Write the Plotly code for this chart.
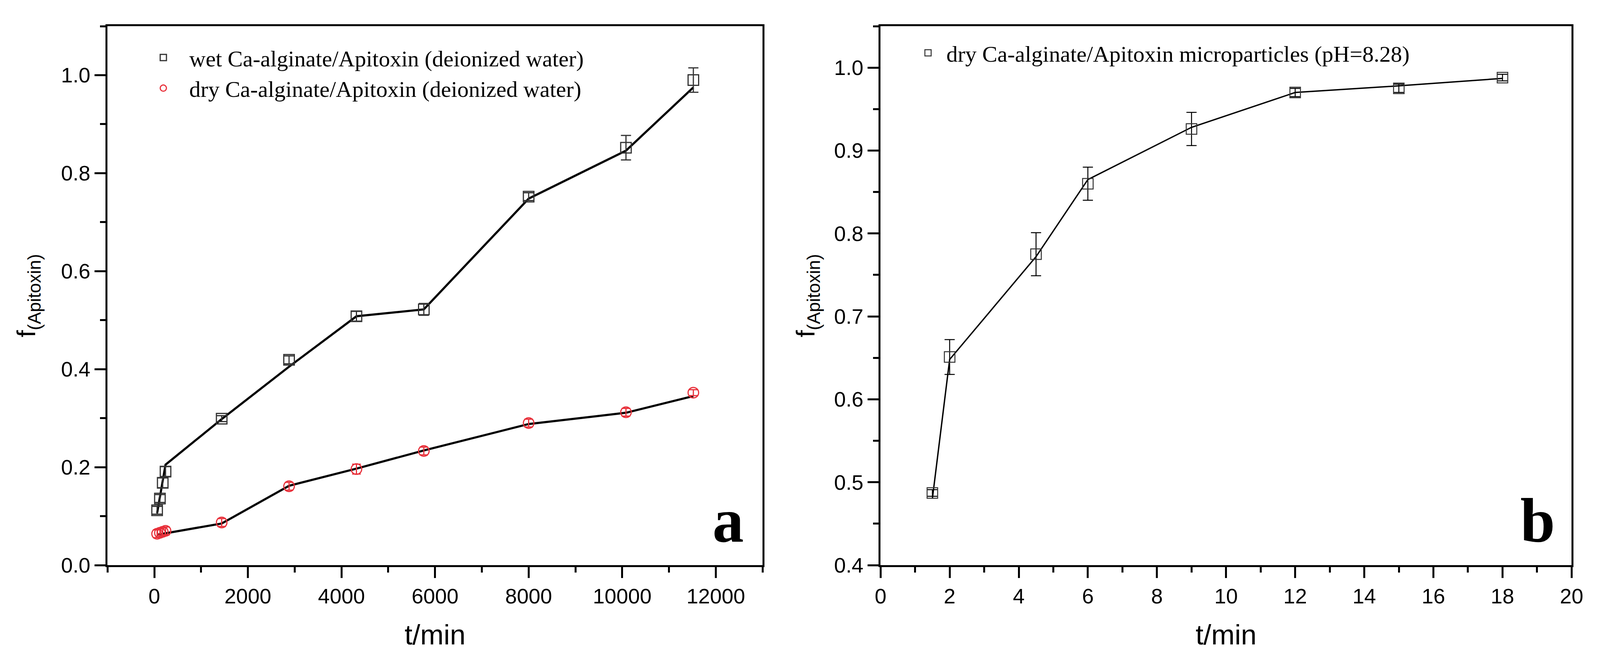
import plotly.graph_objects as go

# reference picture size; the page is shown in a 4096 css-px wide viewport
RW, RH = 4450, 1695
W, H = 4096, 1695


def fx(v):
    return v / RW


def fy(v):
    return 1 - v / RH


# ---------------- Panel a data ----------------
t_a = [60, 120, 180, 240, 1440, 2880, 4320, 5760, 8000, 10080, 11520]
wet_f = [0.112, 0.136, 0.168, 0.191, 0.299, 0.419, 0.508, 0.522, 0.752, 0.852, 0.990]
wet_err = [0.008, 0.008, 0.010, 0.010, 0.006, 0.008, 0.010, 0.012, 0.008, 0.025, 0.025]
wet_line = [0.106, 0.140, 0.172, 0.205, 0.298, 0.405, 0.508, 0.522, 0.748, 0.846, 0.975]

dry_f = [0.064, 0.066, 0.068, 0.070, 0.087, 0.161, 0.196, 0.233, 0.290, 0.312, 0.352]
dry_err = [0.008, 0.008, 0.008, 0.008, 0.008, 0.008, 0.010, 0.008, 0.008, 0.008, 0.006]
dry_line = [0.062, 0.063, 0.064, 0.066, 0.085, 0.162, 0.197, 0.234, 0.288, 0.311, 0.345]

# ---------------- Panel b data ----------------
t_b = [1.5, 2, 4.5, 6, 9, 12, 15, 18]
b_f = [0.487, 0.651, 0.775, 0.860, 0.926, 0.970, 0.975, 0.988]
b_err = [0.004, 0.021, 0.026, 0.020, 0.020, 0.005, 0.005, 0.004]
b_line = [0.480, 0.648, 0.772, 0.865, 0.928, 0.970, 0.978, 0.987]

leg_a = ["wet Ca-alginate/Apitoxin (deionized water)",
         "dry Ca-alginate/Apitoxin (deionized water)"]
leg_b = "dry Ca-alginate/Apitoxin microparticles (pH=8.28)"
x_title = "t/min"
y_title = "f<sub>(Apitoxin)</sub>"
panel_labels = ["a", "b"]

SANS = "Liberation Sans, Arial, sans-serif"
SERIF = "Liberation Serif, Times New Roman, serif"
RED = "#e8303a"
DARK = "#333333"

fig = go.Figure()

# panel a lines
fig.add_trace(go.Scatter(x=t_a, y=wet_line, mode="lines", line=dict(color="black", width=5.5),
                         showlegend=False, hoverinfo="skip", xaxis="x", yaxis="y"))
fig.add_trace(go.Scatter(x=t_a, y=dry_line, mode="lines", line=dict(color="black", width=5.5),
                         showlegend=False, hoverinfo="skip", xaxis="x", yaxis="y"))
# panel a markers
fig.add_trace(go.Scatter(x=t_a, y=wet_f, mode="markers", name=leg_a[0],
                         marker=dict(symbol="square-open", size=27, color=DARK,
                                     line=dict(width=3, color=DARK)),
                         error_y=dict(type="data", array=wet_err, color=DARK,
                                      thickness=3, width=13),
                         xaxis="x", yaxis="y", legend="legend"))
fig.add_trace(go.Scatter(x=t_a, y=dry_f, mode="markers", name=leg_a[1],
                         marker=dict(symbol="circle-open", size=27, color=RED,
                                     line=dict(width=3, color=RED)),
                         error_y=dict(type="data", array=dry_err, color=RED,
                                      thickness=3, width=11),
                         xaxis="x", yaxis="y", legend="legend"))

# panel b
fig.add_trace(go.Scatter(x=t_b, y=b_line, mode="lines", line=dict(color="black", width=3.5),
                         showlegend=False, hoverinfo="skip", xaxis="x2", yaxis="y2"))
fig.add_trace(go.Scatter(x=t_b, y=b_f, mode="markers", name=leg_b,
                         marker=dict(symbol="square-open", size=27, color=DARK,
                                     line=dict(width=2.5, color=DARK)),
                         error_y=dict(type="data", array=b_err, color="black",
                                      thickness=2.5, width=13),
                         xaxis="x2", yaxis="y2", legend="legend2"))

minor_style = dict(ticks="outside", ticklen=14, tickwidth=4.5, tickcolor="black")
axis_common = dict(showline=True, linecolor="black", linewidth=5, mirror=True,
                   showgrid=False, zeroline=False, ticks="outside", ticklen=28,
                   tickwidth=5, tickcolor="black",
                   tickfont=dict(family=SANS, size=54, color="black"),
                   automargin=False)
xtitle_font = dict(family=SANS, size=72, color="black")
ytitle_font = dict(family=SANS, size=66, color="black")

ydom = [fy(1447), fy(67)]

fig.update_layout(
    width=W, height=H,
    margin=dict(l=0, r=0, t=0, b=0),
    paper_bgcolor="white", plot_bgcolor="white",
    xaxis=dict(axis_common, domain=[fx(299), fx(2121)], range=[-1000, 13000],
               tick0=0, dtick=2000, tickformat="d",
               minor=dict(minor_style, dtick=1000),
               title=dict(text=x_title, font=xtitle_font, standoff=46),
               anchor="y"),
    yaxis=dict(axis_common, domain=ydom, range=[0, 1.1], tick0=0, dtick=0.2,
               tickformat=".1f",
               minor=dict(minor_style, dtick=0.1),
               title=dict(text=y_title, font=ytitle_font, standoff=46),
               anchor="x"),
    xaxis2=dict(axis_common, domain=[fx(2449), fx(4371)], range=[0, 20],
                tick0=0, dtick=2,
                minor=dict(minor_style, dtick=1),
                title=dict(text=x_title, font=xtitle_font, standoff=46),
                anchor="y2"),
    yaxis2=dict(axis_common, domain=ydom, range=[0.4, 1.05], tick0=0.4, dtick=0.1,
                tickformat=".1f",
                minor=dict(minor_style, dtick=0.05),
                title=dict(text=y_title, font=ytitle_font, standoff=30),
                anchor="x2"),
    legend=dict(x=fx(382), y=fy(103), xanchor="left", yanchor="top",
                bgcolor="rgba(0,0,0,0)", font=dict(family=SERIF, size=58, color="black"),
                itemsizing="trace", itemwidth=123, tracegroupgap=0),
    legend2=dict(x=fx(2530), y=fy(91), xanchor="left", yanchor="top",
                 bgcolor="rgba(0,0,0,0)", font=dict(family=SERIF, size=58, color="black"),
                 itemsizing="trace", itemwidth=84),
    annotations=[
        dict(text="<b>%s</b>" % panel_labels[0], x=fx(2025), y=fy(1333), xref="paper", yref="paper",
             showarrow=False, font=dict(family=SERIF, size=160, color="black"),
             xanchor="center", yanchor="middle"),
        dict(text="<b>%s</b>" % panel_labels[1], x=fx(4277), y=fy(1333), xref="paper", yref="paper",
             showarrow=False, font=dict(family=SERIF, size=160, color="black"),
             xanchor="center", yanchor="middle"),
    ],
)

fig.write_html("out.html", config={"displayModeBar": False},
               post_script="document.body.style.margin='0px';")
